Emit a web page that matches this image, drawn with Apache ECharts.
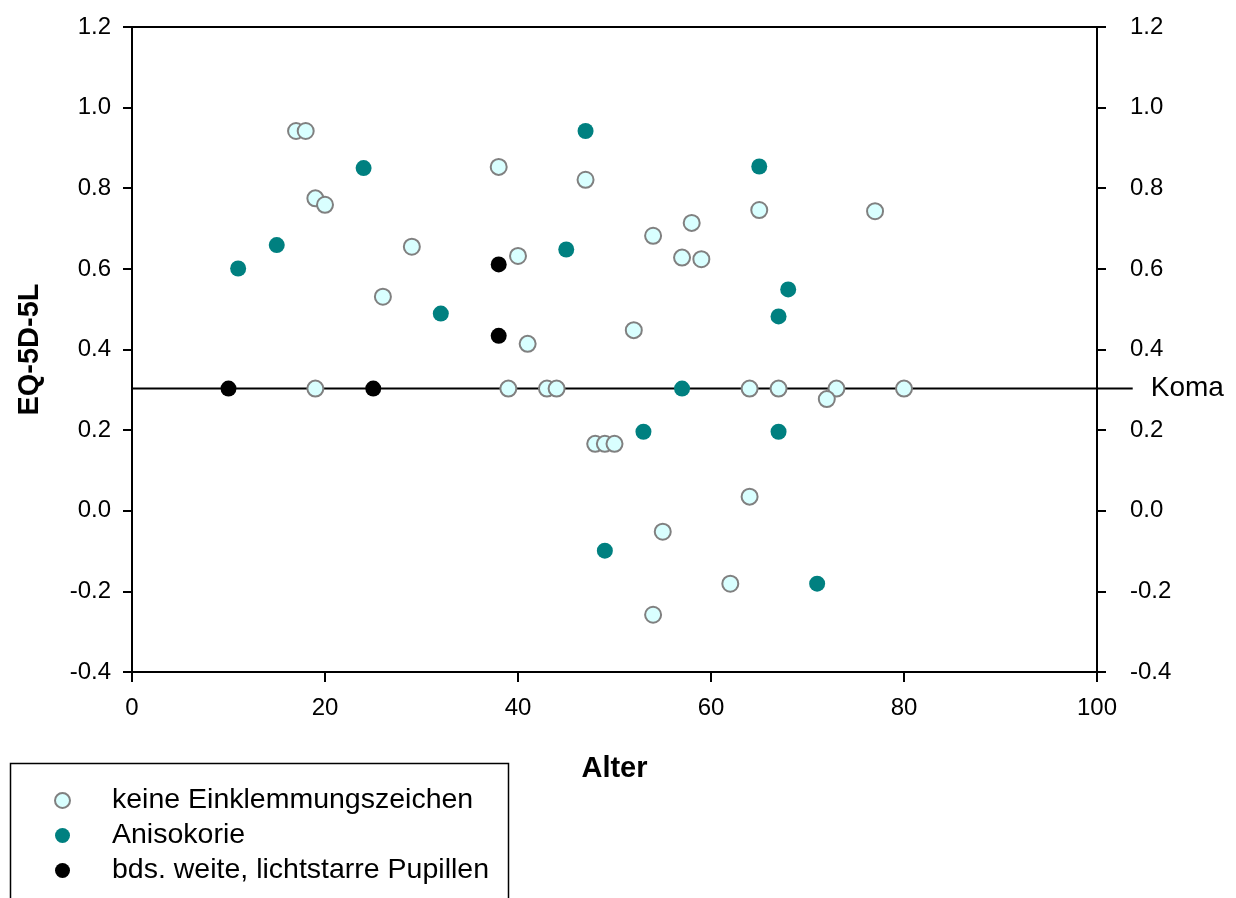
<!DOCTYPE html>
<html>
<head>
<meta charset="utf-8">
<script src="https://cdn.jsdelivr.net/npm/echarts@6/dist/echarts.min.js"></script>
<style>
html,body{margin:0;padding:0;background:#fff;}
#chart{width:1236px;height:898px;}
</style>
</head>
<body>
<div id="chart"></div>
<script>
// ---- data ----
const seriesNames = ['keine Einklemmungszeichen', 'Anisokorie', 'bds. weite, lichtstarre Pupillen'];
const keineAge = [17, 18, 19, 20, 38, 47, 29, 40, 26, 41, 19, 39, 43, 44, 54, 58, 57, 59, 65, 77, 52, 64, 67, 73, 80, 72, 48, 49, 50, 64, 55, 62, 54];
const keineEQ  = [0.942, 0.942, 0.775, 0.759, 0.853, 0.821, 0.655, 0.632, 0.531, 0.414, 0.303, 0.303, 0.303, 0.303, 0.682, 0.714, 0.628, 0.624, 0.746, 0.743, 0.448, 0.303, 0.303, 0.303, 0.303, 0.277, 0.166, 0.166, 0.166, 0.035, -0.052, -0.181, -0.258];
const anisoAge = [11, 15, 24, 32, 47, 45, 57, 53, 49, 65, 68, 67, 67, 71];
const anisoEQ  = [0.601, 0.659, 0.850, 0.489, 0.942, 0.648, 0.303, 0.196, -0.099, 0.854, 0.549, 0.482, 0.196, -0.181];
const bdsAge = [10, 25, 38, 38];
const bdsEQ  = [0.303, 0.303, 0.611, 0.434];
const komaValue = 0.303;
const komaLabel = 'Koma';
const xTicks = {min: 0, max: 100, step: 20};
const yTicks = {min: -0.4, max: 1.2, step: 0.2};
const xTitle = 'Alter';
const yTitle = 'EQ-5D-5L';

function pairs(xs, ys) { return xs.map((x, i) => [x, ys[i]]); }

const FONT = '"Liberation Sans", Arial, sans-serif';
const chart = echarts.init(document.getElementById('chart'));

const yAxisCommon = {
  type: 'value', min: yTicks.min, max: yTicks.max, interval: yTicks.step,
  splitLine: {show: false},
  axisLine: {show: true, onZero: false, lineStyle: {color: '#000', width: 2}},
  axisTick: {show: true, length: 9, lineStyle: {color: '#000', width: 2}},
  axisLabel: {color: '#000', fontSize: 24, fontFamily: FONT,
    formatter: v => v.toFixed(1)}
};

chart.setOption({
  backgroundColor: '#fff',
  animation: false,
  grid: {left: 132, right: 139, top: 27, bottom: 226, outerBoundsMode: 'none', containLabel: false},
  xAxis: [{
    type: 'value', min: xTicks.min, max: xTicks.max, interval: xTicks.step,
    position: 'bottom',
    name: xTitle, nameLocation: 'middle', nameGap: 82,
    nameTextStyle: {color: '#000', fontSize: 29, fontWeight: 'bold', fontFamily: FONT},
    splitLine: {show: false},
    axisLine: {show: true, onZero: false, lineStyle: {color: '#000', width: 2}},
    axisTick: {show: true, length: 10, lineStyle: {color: '#000', width: 2}},
    axisLabel: {color: '#000', fontSize: 24, fontFamily: FONT, margin: 24}
  }, {
    type: 'value', min: xTicks.min, max: xTicks.max, position: 'top',
    splitLine: {show: false},
    axisLine: {show: true, onZero: false, lineStyle: {color: '#000', width: 2}},
    axisTick: {show: false}, axisLabel: {show: false}
  }],
  yAxis: [
    Object.assign({}, yAxisCommon, {
      position: 'left',
      name: yTitle, nameLocation: 'middle', nameGap: 88, nameRotate: 90,
      nameTextStyle: {color: '#000', fontSize: 29, fontWeight: 'bold', fontFamily: FONT},
      axisLabel: Object.assign({}, yAxisCommon.axisLabel, {margin: 21})
    }),
    Object.assign({}, yAxisCommon, {
      position: 'right',
      axisLabel: Object.assign({}, yAxisCommon.axisLabel, {margin: 33})
    })
  ],
  legend: {
    orient: 'vertical', left: 54, top: 786, padding: 0,
    itemWidth: 15, itemHeight: 15, itemGap: 6,
    data: seriesNames,
    textStyle: {color: '#000', fontSize: 28.5, fontFamily: FONT, lineHeight: 28, padding: [0, 0, 0, 37]}
  },
  graphic: [{
    type: 'rect', silent: true,
    shape: {x: 10.5, y: 763.5, width: 498, height: 200},
    style: {fill: 'none', stroke: '#000', lineWidth: 1.5}
  }],
  series: [
    {
      name: seriesNames[0], type: 'scatter', data: pairs(keineAge, keineEQ),
      symbol: 'circle', symbolSize: 16, z: 3,
      itemStyle: {color: '#d9ffff', borderColor: '#808080', borderWidth: 2, opacity: 1}
    },
    {
      name: seriesNames[1], type: 'scatter', data: pairs(anisoAge, anisoEQ),
      symbol: 'circle', symbolSize: 16, z: 3,
      itemStyle: {color: '#008080', opacity: 1}
    },
    {
      name: seriesNames[2], type: 'scatter', data: pairs(bdsAge, bdsEQ),
      symbol: 'circle', symbolSize: 16, z: 3,
      itemStyle: {color: '#000000', opacity: 1}
    }
  ]
});

// Koma reference line: positioned through the chart's own scales
const pStart = chart.convertToPixel({gridIndex: 0}, [xTicks.min, komaValue]);
const pAxisEnd = chart.convertToPixel({gridIndex: 0}, [xTicks.max * 1.037, komaValue]);
chart.setOption({
  graphic: [{
    type: 'rect', silent: true,
    shape: {x: 10.5, y: 763.5, width: 498, height: 200},
    style: {fill: 'none', stroke: '#000', lineWidth: 1.5}
  }, {
    type: 'line', silent: true, z: 1,
    shape: {x1: pStart[0], y1: pStart[1], x2: pAxisEnd[0], y2: pAxisEnd[1]},
    style: {stroke: '#000', lineWidth: 2}
  }, {
    type: 'text', silent: true,
    x: pAxisEnd[0] + 18, y: pAxisEnd[1],
    style: {text: komaLabel, fill: '#000', fontSize: 28, fontFamily: FONT, verticalAlign: 'middle', align: 'left'}
  }]
});
</script>
</body>
</html>
